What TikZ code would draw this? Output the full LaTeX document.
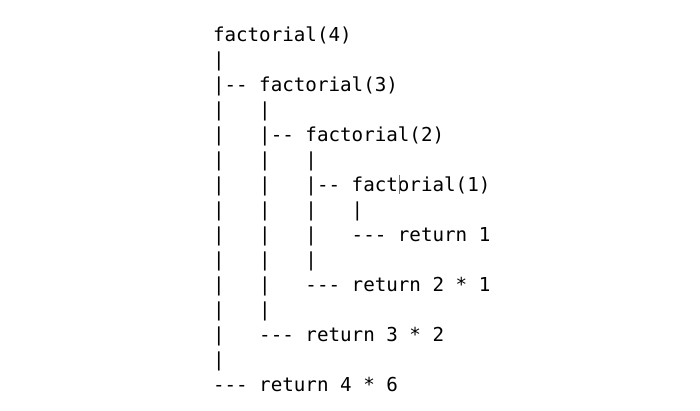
\documentclass[tikz,border=0pt]{standalone}
\usepackage{fontspec}
\setmonofont{DejaVu Sans Mono}
\begin{document}
\begin{tikzpicture}[x=1pt,y=-1pt,
  codeline/.style={anchor=base west,inner sep=0pt,outer sep=0pt,
    font=\ttfamily\fontsize{19.2}{25}\selectfont,text=black},
  caret/.style={draw=black!55,line width=1pt}]
\useasboundingbox[fill=white] (0,0) rectangle (700,410);
\node[codeline] (l0)  at (213,41)  {factorial(4)};
\node[codeline] (l1)  at (213,66)  {|};
\node[codeline] (l2)  at (213,91)  {|-- factorial(3)};
\node[codeline] (l3)  at (213,116) {|~~~|};
\node[codeline] (l4)  at (213,141) {|~~~|-- factorial(2)};
\node[codeline] (l5)  at (213,166) {|~~~|~~~|};
\node[codeline] (l6)  at (213,191) {|~~~|~~~|-- factorial(1)};
\node[codeline] (l7)  at (213,216) {|~~~|~~~|~~~|};
\node[codeline] (l8)  at (213,241) {|~~~|~~~|~~~--- return 1};
\node[codeline] (l9)  at (213,266) {|~~~|~~~|};
\node[codeline] (l10) at (213,291) {|~~~|~~~--- return 2 * 1};
\node[codeline] (l11) at (213,316) {|~~~|};
\node[codeline] (l12) at (213,341) {|~~~--- return 3 * 2};
\node[codeline] (l13) at (213,366) {|};
\node[codeline] (l14) at (213,391) {--- return 4 * 6};
\coordinate (ct) at (399,175);
\coordinate (cb) at (399,194);
\draw[caret] (ct) -- (cb);
\end{tikzpicture}
\end{document}
